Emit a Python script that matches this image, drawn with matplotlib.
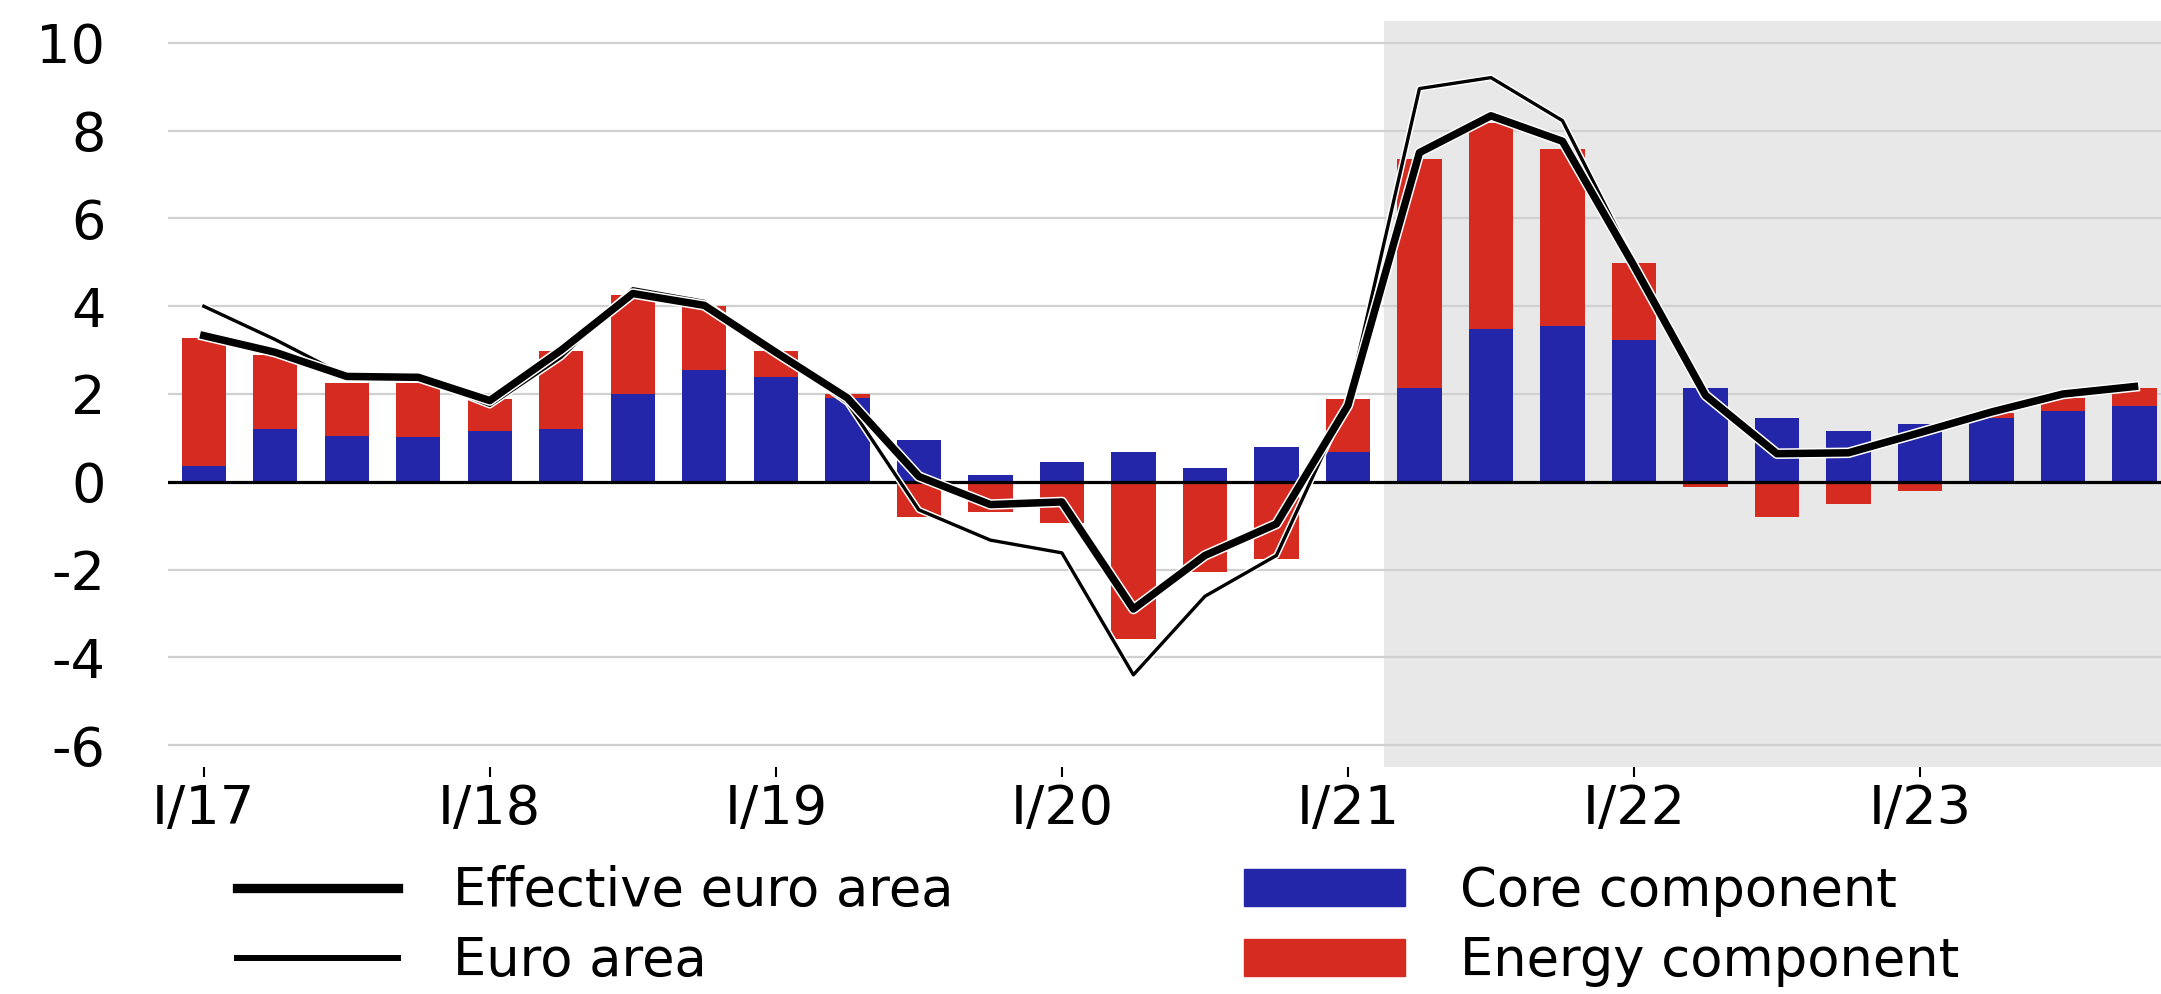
import numpy as np
import matplotlib
matplotlib.use("Agg")
import matplotlib.pyplot as plt
import matplotlib.patheffects as pe
from matplotlib.lines import Line2D
from matplotlib.patches import Patch

plt.rcParams['font.family'] = ['DejaVu Sans']
plt.rcParams['axes.unicode_minus'] = False

# quarterly, I/17 .. IV/23
quarters = np.arange(28)
core = [0.37, 1.21, 1.04, 1.02, 1.16, 1.21, 1.99, 2.55, 2.39, 1.91,
        0.96, 0.16, 0.44, 0.68, 0.32, 0.80, 0.68, 2.14, 3.48, 3.55,
        3.24, 2.14, 1.46, 1.16, 1.32, 1.46, 1.62, 1.73]
energy = [2.91, 1.69, 1.21, 1.24, 0.72, 1.77, 2.26, 1.45, 0.59, 0.08,
          -0.81, -0.68, -0.93, -3.59, -2.05, -1.75, 1.21, 5.22, 4.70, 4.04,
          1.74, -0.12, -0.81, -0.50, -0.20, 0.10, 0.28, 0.41]
effective = [3.33, 2.95, 2.40, 2.38, 1.85, 3.00, 4.29, 4.02, 2.95, 1.91,
             0.12, -0.52, -0.46, -2.90, -1.68, -0.96, 1.74, 7.50, 8.34, 7.76,
             4.92, 1.97, 0.64, 0.66, 1.12, 1.59, 2.00, 2.17]
euro_area = [4.00, 3.24, 2.40, 2.38, 1.74, 2.84, 4.40, 4.11, 2.95, 1.80,
             -0.64, -1.33, -1.62, -4.40, -2.61, -1.68, 1.85, 8.96, 9.21, 8.23,
             5.00, 1.97, 0.66, 0.68, 1.12, 1.59, 2.00, 2.17]
tick_pos = [0, 4, 8, 12, 16, 20, 24]
tick_labels = ['I/17', 'I/18', 'I/19', 'I/20', 'I/21', 'I/22', 'I/23']
y_ticks = [-6, -4, -2, 0, 2, 4, 6, 8, 10]

blue = '#2326A8'
red = '#D62B20'

fig = plt.figure(figsize=(21.61, 9.94), dpi=100)
ax = fig.add_axes([168/2161, 1-767/994, 1-168/2161, (767-21)/994])

core = np.array(core)
energy = np.array(energy)
e_bottom = np.where(energy > 0, core, 0)

ax.axvspan(16.5, 30, color='#E8E8E8', zorder=0, lw=0)
for yv in y_ticks:
    if yv != 0:
        ax.axhline(yv, color='#D0D0D0', lw=1.6, zorder=1)

ax.bar(quarters, core, width=0.62, color=blue, zorder=2)
ax.bar(quarters, energy, width=0.62, bottom=e_bottom, color=red, zorder=2)
ax.axhline(0, color='black', lw=2.3, zorder=3)

ax.plot(quarters, euro_area, color='black', lw=2.4, zorder=4,
        path_effects=[pe.Stroke(linewidth=4.6, foreground='white'), pe.Normal()])
ax.plot(quarters, effective, color='black', lw=5.4, zorder=5,
        path_effects=[pe.Stroke(linewidth=7.6, foreground='white'), pe.Normal()])

ax.set_xlim(-0.5, 27.37)
ax.set_ylim(-6.5, 10.5)
for s in ax.spines.values():
    s.set_visible(False)

ax.set_yticks(y_ticks)
ax.set_yticklabels([str(v) for v in y_ticks])
ax.tick_params(axis='y', length=0, pad=45, labelsize=39)
ax.set_xticks(tick_pos)
ax.set_xticklabels(tick_labels)
ax.tick_params(axis='x', direction='out', length=7.5, width=1.5, pad=4, labelsize=39)

h1 = [Line2D([], [], color='black', lw=6.7), Line2D([], [], color='black', lw=4.3)]
l1 = ['Effective euro area', 'Euro area']
h2 = [Patch(color=blue), Patch(color=red)]
l2 = ['Core component', 'Energy component']
kw = dict(frameon=False, fontsize=38, handlelength=3.05, handletextpad=1.05,
          labelspacing=0.34, borderpad=0, borderaxespad=0, loc='center left')
fig.legend(h1, l1, bbox_to_anchor=(237/2161, 1-926/994), **kw)
fig.legend(h2, l2, bbox_to_anchor=(1244/2161, 1-926/994), **kw)

fig.savefig('out.png', dpi=100)
